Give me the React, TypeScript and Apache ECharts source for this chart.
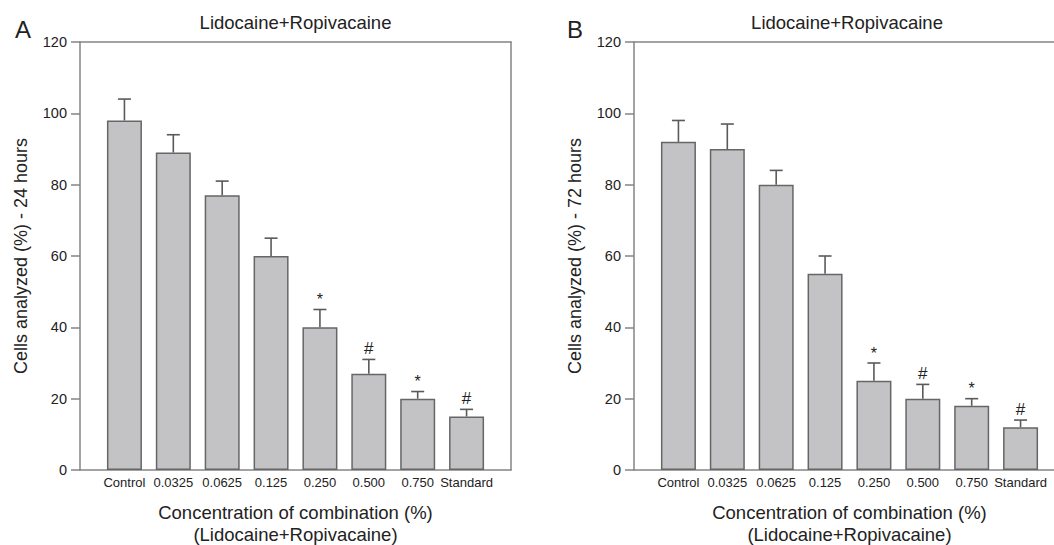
import React, { useEffect, useRef } from "react";
import * as echarts from "echarts";

const categories = ["Control", "0.0325", "0.0625", "0.125", "0.250", "0.500", "0.750", "Standard"];
const valuesA = [98, 89, 77, 60, 40, 27, 20, 15];
const errTopA = [104, 94, 81, 65, 45, 31, 22, 17];
const marksA = ["", "", "", "", "*", "#", "*", "#"];
const valuesB = [92, 90, 80, 55, 25, 20, 18, 12];
const errTopB = [98, 97, 84, 60, 30, 24, 20, 14];
const marksB = ["", "", "", "", "*", "#", "*", "#"];
const yTicks = [0, 20, 40, 60, 80, 100, 120];

const FONT = "'Liberation Sans', Arial, Helvetica, sans-serif";
const AXIS_COLOR = "#858585";
const TEXT_COLOR = "#222";

function errSeries(xIdx: number, yIdx: number, vals: number[], tops: number[], marks: string[]) {
  return {
    type: "custom",
    xAxisIndex: xIdx,
    yAxisIndex: yIdx,
    z: 5,
    data: vals.map((v, i) => [i, v, tops[i]]),
    renderItem: (params: any, api: any) => {
      const base = api.coord([api.value(0), api.value(1)]);
      const top = api.coord([api.value(0), api.value(2)]);
      const mark = marks[params.dataIndex];
      const children: any[] = [
        { type: "line", shape: { x1: base[0], y1: base[1], x2: top[0], y2: top[1] }, style: { stroke: "#5a5a5a", lineWidth: 1.6 } },
        { type: "line", shape: { x1: top[0] - 6.5, y1: top[1], x2: top[0] + 6.5, y2: top[1] }, style: { stroke: "#5a5a5a", lineWidth: 1.6 } },
      ];
      if (mark) {
        children.push({
          type: "text",
          x: top[0],
          y: top[1] - 2,
          style: { text: mark, fontSize: mark === "#" ? 17 : 16, fontFamily: FONT, fill: "#222", align: "center", verticalAlign: "bottom" },
        });
      }
      return { type: "group", children };
    },
  };
}

export default function App() {
  const ref = useRef<HTMLDivElement>(null);
  useEffect(() => {
    if (!ref.current) return;
    const chart = echarts.init(ref.current, undefined, { renderer: "svg" });
    const frameGrid = (left: number, width: number) => ({
      left, width, top: 42, height: 428, show: false, outerBoundsMode: "none", containLabel: false,
    });
    const barGrid = (left: number) => ({ left, top: 42, width: 391, height: 428, outerBoundsMode: "none", containLabel: false });
    const frameX = (g: number, position: string) => ({
      type: "value", gridIndex: g, position, min: 0, max: 1,
      axisLine: { show: true, onZero: false, lineStyle: { color: AXIS_COLOR, width: 1.5 } },
      axisTick: { show: false }, axisLabel: { show: false }, splitLine: { show: false },
    });
    const barX = (g: number) => ({
      type: "category",
      gridIndex: g,
      data: categories,
      axisLine: { show: false },
      axisTick: { show: false },
      axisLabel: { color: TEXT_COLOR, fontSize: 13, fontFamily: FONT, margin: 6, interval: 0 },
      name: "Concentration of combination (%)\n(Lidocaine+Ropivacaine)",
      nameLocation: "middle",
      nameGap: 31,
      nameTextStyle: { color: TEXT_COLOR, fontSize: 18.5, fontFamily: FONT, lineHeight: 22, verticalAlign: "top" },
    });
    const frameY = (g: number, name: string, position: string, show: boolean) => ({
      type: "value",
      gridIndex: g,
      position,
      min: 0,
      max: 120,
      interval: 20,
      axisLine: { show: true, onZero: false, lineStyle: { color: AXIS_COLOR, width: 1.5 } },
      axisTick: { show, length: 9, lineStyle: { color: AXIS_COLOR, width: 1.5 } },
      splitLine: { show: false },
      axisLabel: { show, color: TEXT_COLOR, fontSize: 14.5, fontFamily: FONT, margin: 13, formatter: (v: number) => (yTicks.includes(v) ? String(v) : "") },
      name,
      nameLocation: "middle",
      nameGap: 50,
      nameTextStyle: { color: TEXT_COLOR, fontSize: 18, fontFamily: FONT },
    });
    const barY = (g: number) => ({ type: "value", gridIndex: g, min: 0, max: 120, show: false });
    const barSeries = (xIdx: number, yIdx: number, vals: number[]) => ({
      type: "bar",
      xAxisIndex: xIdx,
      yAxisIndex: yIdx,
      data: vals,
      barWidth: 35,
      itemStyle: { color: "#c3c3c5", borderColor: "#666", borderWidth: 1.5 },
      z: 3,
    });
    const titleStyle = (size: number) => ({ fontSize: size, fontWeight: "normal", color: TEXT_COLOR, fontFamily: FONT });

    chart.setOption({
      animation: false,
      backgroundColor: "#fff",
      title: [
        { text: "A", left: 15, top: 17, padding: 0, textStyle: titleStyle(24) },
        { text: "B", left: 567, top: 17, padding: 0, textStyle: titleStyle(24) },
        { text: "Lidocaine+Ropivacaine", left: 295.5, top: 13, padding: 0, textAlign: "center", textStyle: titleStyle(18.5) },
        { text: "Lidocaine+Ropivacaine", left: 847, top: 13, padding: 0, textAlign: "center", textStyle: titleStyle(18.5) },
      ],
      grid: [frameGrid(80, 431), barGrid(100), frameGrid(634, 440), barGrid(654)],
      xAxis: [
        frameX(0, "bottom"), frameX(0, "top"),
        barX(1),
        frameX(2, "bottom"), frameX(2, "top"),
        barX(3),
      ],
      yAxis: [
        frameY(0, "Cells analyzed (%) - 24 hours", "left", true),
        frameY(0, "", "right", false),
        barY(1),
        frameY(2, "Cells analyzed (%) - 72 hours", "left", true),
        barY(3),
      ],
      series: [
        barSeries(2, 2, valuesA),
        errSeries(2, 2, valuesA, errTopA, marksA),
        barSeries(5, 4, valuesB),
        errSeries(5, 4, valuesB, errTopB, marksB),
      ],
    });
    return () => chart.dispose();
  }, []);
  return <div ref={ref} style={{ position: "fixed", left: 0, top: 0, width: 1054, height: 545 }} />;
}
